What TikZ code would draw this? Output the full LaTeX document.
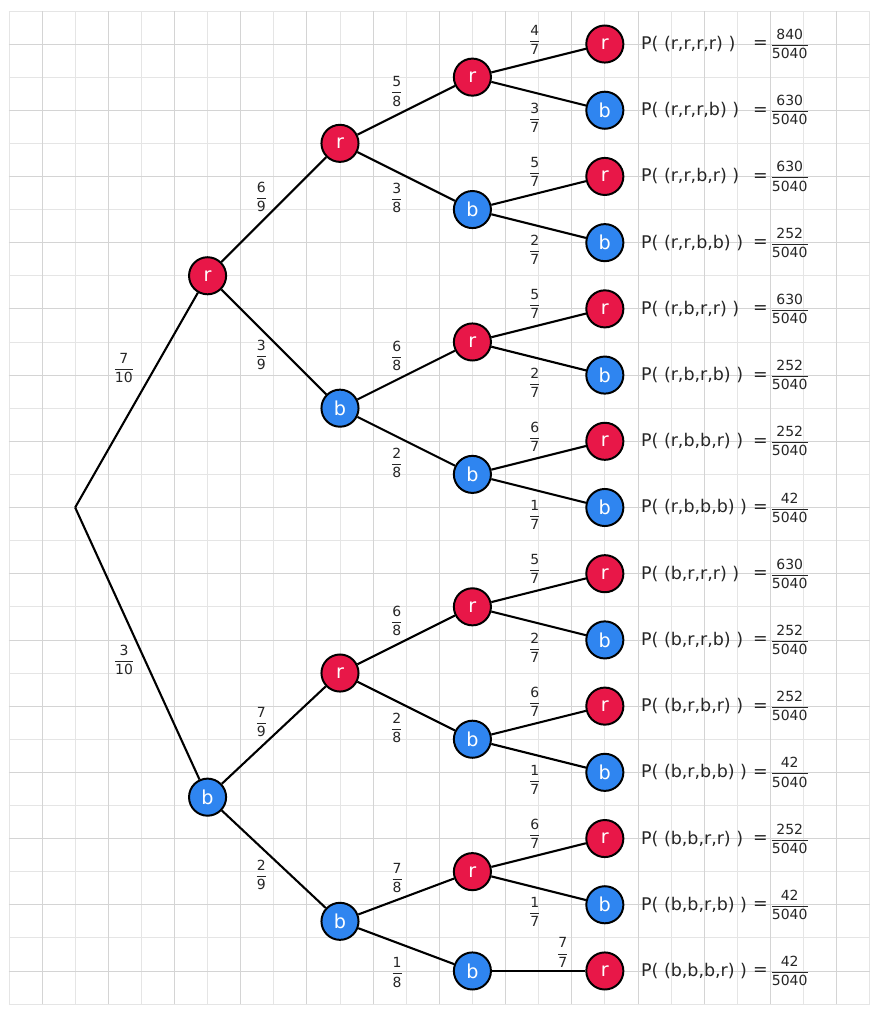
\documentclass[tikz,border=0pt]{standalone}
\usepackage{amsmath}
\usepackage{fontspec}
\setmainfont{DejaVu Sans}
\usetikzlibrary{
	positioning,
	calc
}
\definecolor{redball}{RGB}{232,23,72}
\definecolor{blueball}{RGB}{47,133,240}
\newcommand{\fr}[2]{{\fontsize{12}{14}\selectfont$\genfrac{}{}{0.7pt}{0}{\text{#1}}{\text{#2}}$}}

\begin{document}
\begin{tikzpicture}[
		ballr/.style={draw, circle, line width=1.7pt, fill=redball, text=white, minimum size=1.12cm, inner sep=0pt, font=\fontsize{16.5}{18}\selectfont},
		ballb/.style={ballr, fill=blueball},
		branch/.style={line width=1.8pt},
		wt/.style={inner sep=0pt, text=black!85},
		outcome/.style={inner sep=0pt, anchor=west, text=black!85, font=\fontsize{15}{17}\selectfont},
		gridminor/.style={draw=black!10, line width=0.7pt},
		gridmajor/.style={draw=black!17, line width=0.7pt}
		]
		
		\path[use as bounding box, fill=white] (-0.27,0.33) rectangle (26.23,-30.3);
		
		% =========================
		% Squared paper
		% =========================
		\draw[gridminor] (0,-30) grid (26,0);
		\draw[gridmajor, shift={(1,1)}] (-1,-31) grid[step=2] (25,-1);
		
		% =========================
		% First and second draw
		% =========================
		\coordinate (root) at (2,-15);
		\node[ballr] (r) at (6,-8) {r};
		\node[ballb] (b) at (6,-23.75) {b};
		
		\node[ballr] (rr) at (10,-4) {r};
		\node[ballb] (rb) at (10,-12) {b};
		\node[ballr] (br) at (10,-20) {r};
		\node[ballb] (bb) at (10,-27.5) {b};
		
		% =========================
		% Third draw
		% =========================
		\node[ballr] (rrr) at (14,-2) {r};
		\node[ballb] (rrb) at (14,-6) {b};
		\node[ballr] (rbr) at (14,-10) {r};
		\node[ballb] (rbb) at (14,-14) {b};
		\node[ballr] (brr) at (14,-18) {r};
		\node[ballb] (brb) at (14,-22) {b};
		\node[ballr] (bbr) at (14,-26) {r};
		\node[ballb] (bbb) at (14,-29) {b};
		
		% =========================
		% Fourth draw (outcomes)
		% =========================
		\node[ballr] (rrrr) at (18,-1) {r};
		\node[ballb] (rrrb) at (18,-3) {b};
		\node[ballr] (rrbr) at (18,-5) {r};
		\node[ballb] (rrbb) at (18,-7) {b};
		\node[ballr] (rbrr) at (18,-9) {r};
		\node[ballb] (rbrb) at (18,-11) {b};
		\node[ballr] (rbbr) at (18,-13) {r};
		\node[ballb] (rbbb) at (18,-15) {b};
		\node[ballr] (brrr) at (18,-17) {r};
		\node[ballb] (brrb) at (18,-19) {b};
		\node[ballr] (brbr) at (18,-21) {r};
		\node[ballb] (brbb) at (18,-23) {b};
		\node[ballr] (bbrr) at (18,-25) {r};
		\node[ballb] (bbrb) at (18,-27) {b};
		\node[ballr] (bbbr) at (18,-29) {r};
		
		% =========================
		% Branches with weights
		% =========================
		\draw[branch] (root) -- node[wt, pos=0.65, left=17pt] {\fr{7}{10}} (r);
		\draw[branch] (root) -- node[wt, pos=0.56, left=8pt] {\fr{3}{10}} (b);
		
		\draw[branch] (r) -- node[wt, pos=0.38, above=8pt] {\fr{6}{9}} (rr);
		\draw[branch] (r) -- node[wt, pos=0.38, below=8pt] {\fr{3}{9}} (rb);
		\draw[branch] (b) -- node[wt, pos=0.38, above=8pt] {\fr{7}{9}} (br);
		\draw[branch] (b) -- node[wt, pos=0.38, below=10pt] {\fr{2}{9}} (bb);
		
		\draw[branch] (rr) -- node[wt, pos=0.405, above=6.5pt] {\fr{5}{8}} (rrr);
		\draw[branch] (rr) -- node[wt, pos=0.405, below=9pt] {\fr{3}{8}} (rrb);
		\draw[branch] (rb) -- node[wt, pos=0.405, above=6.5pt] {\fr{6}{8}} (rbr);
		\draw[branch] (rb) -- node[wt, pos=0.405, below=9pt] {\fr{2}{8}} (rbb);
		\draw[branch] (br) -- node[wt, pos=0.405, above=6.5pt] {\fr{6}{8}} (brr);
		\draw[branch] (br) -- node[wt, pos=0.405, below=9pt] {\fr{2}{8}} (brb);
		\draw[branch] (bb) -- node[wt, pos=0.405, above=5pt] {\fr{7}{8}} (bbr);
		\draw[branch] (bb) -- node[wt, pos=0.405, below=12pt] {\fr{1}{8}} (bbb);
		
		\draw[branch] (rrr) -- node[wt, pos=0.46, above=5.5pt] {\fr{4}{7}} (rrrr);
		\draw[branch] (rrr) -- node[wt, pos=0.46, below=8pt] {\fr{3}{7}} (rrrb);
		\draw[branch] (rrb) -- node[wt, pos=0.46, above=5.5pt] {\fr{5}{7}} (rrbr);
		\draw[branch] (rrb) -- node[wt, pos=0.46, below=8pt] {\fr{2}{7}} (rrbb);
		\draw[branch] (rbr) -- node[wt, pos=0.46, above=5.5pt] {\fr{5}{7}} (rbrr);
		\draw[branch] (rbr) -- node[wt, pos=0.46, below=8pt] {\fr{2}{7}} (rbrb);
		\draw[branch] (rbb) -- node[wt, pos=0.46, above=5.5pt] {\fr{6}{7}} (rbbr);
		\draw[branch] (rbb) -- node[wt, pos=0.46, below=8pt] {\fr{1}{7}} (rbbb);
		\draw[branch] (brr) -- node[wt, pos=0.46, above=5.5pt] {\fr{5}{7}} (brrr);
		\draw[branch] (brr) -- node[wt, pos=0.46, below=8pt] {\fr{2}{7}} (brrb);
		\draw[branch] (brb) -- node[wt, pos=0.46, above=5.5pt] {\fr{6}{7}} (brbr);
		\draw[branch] (brb) -- node[wt, pos=0.46, below=8pt] {\fr{1}{7}} (brbb);
		\draw[branch] (bbr) -- node[wt, pos=0.46, above=5.5pt] {\fr{6}{7}} (bbrr);
		\draw[branch] (bbr) -- node[wt, pos=0.46, below=8pt] {\fr{1}{7}} (bbrb);
		\draw[branch] (bbb) -- node[wt, pos=0.76, above=2.5pt] {\fr{7}{7}} (bbbr);
		
		% =========================
		% Outcome probabilities
		% =========================
		\node[outcome, right=0.5cm of rrrr] (prrrr) {P( (r,r,r,r) )};
		\node[outcome, right=0.5cm of rrrb] (prrrb) {P( (r,r,r,b) )};
		\node[outcome, right=0.5cm of rrbr] (prrbr) {P( (r,r,b,r) )};
		\node[outcome, right=0.5cm of rrbb] (prrbb) {P( (r,r,b,b) )};
		\node[outcome, right=0.5cm of rbrr] (prbrr) {P( (r,b,r,r) )};
		\node[outcome, right=0.5cm of rbrb] (prbrb) {P( (r,b,r,b) )};
		\node[outcome, right=0.5cm of rbbr] (prbbr) {P( (r,b,b,r) )};
		\node[outcome, right=0.5cm of rbbb] (prbbb) {P( (r,b,b,b) )};
		\node[outcome, right=0.5cm of brrr] (pbrrr) {P( (b,r,r,r) )};
		\node[outcome, right=0.5cm of brrb] (pbrrb) {P( (b,r,r,b) )};
		\node[outcome, right=0.5cm of brbr] (pbrbr) {P( (b,r,b,r) )};
		\node[outcome, right=0.5cm of brbb] (pbrbb) {P( (b,r,b,b) )};
		\node[outcome, right=0.5cm of bbrr] (pbbrr) {P( (b,b,r,r) )};
		\node[outcome, right=0.5cm of bbrb] (pbbrb) {P( (b,b,r,b) )};
		\node[outcome, right=0.5cm of bbbr] (pbbbr) {P( (b,b,b,r) )};
		
		\node[outcome] (vrrrr) at (22.47,-1) {=\,\fr{840}{5040}};
		\node[outcome] (vrrrb) at (22.47,-3) {=\,\fr{630}{5040}};
		\node[outcome] (vrrbr) at (22.47,-5) {=\,\fr{630}{5040}};
		\node[outcome] (vrrbb) at (22.47,-7) {=\,\fr{252}{5040}};
		\node[outcome] (vrbrr) at (22.47,-9) {=\,\fr{630}{5040}};
		\node[outcome] (vrbrb) at (22.47,-11) {=\,\fr{252}{5040}};
		\node[outcome] (vrbbr) at (22.47,-13) {=\,\fr{252}{5040}};
		\node[outcome] (vrbbb) at (22.47,-15) {=\,\fr{42}{5040}};
		\node[outcome] (vbrrr) at (22.47,-17) {=\,\fr{630}{5040}};
		\node[outcome] (vbrrb) at (22.47,-19) {=\,\fr{252}{5040}};
		\node[outcome] (vbrbr) at (22.47,-21) {=\,\fr{252}{5040}};
		\node[outcome] (vbrbb) at (22.47,-23) {=\,\fr{42}{5040}};
		\node[outcome] (vbbrr) at (22.47,-25) {=\,\fr{252}{5040}};
		\node[outcome] (vbbrb) at (22.47,-27) {=\,\fr{42}{5040}};
		\node[outcome] (vbbbr) at (22.47,-29) {=\,\fr{42}{5040}};
		
	\end{tikzpicture}
\end{document}
